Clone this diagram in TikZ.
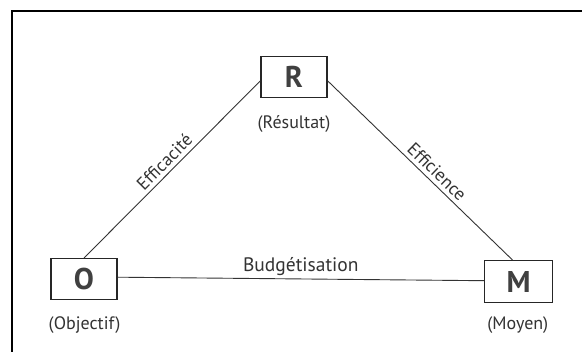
\documentclass[tikz,border=0pt]{standalone}
\usepackage{fontspec}
\setmainfont{PT Sans}
\begin{document}
\begin{tikzpicture}[x=1pt,y=-1pt,
  letterbox/.style={draw=black!85,line width=1.4pt,minimum width=66pt,minimum height=41pt,inner sep=0pt,font=\fontsize{30}{30}\selectfont\bfseries,text=black!75},
  caption/.style={inner sep=0pt,font=\fontsize{18}{18}\selectfont,text=black!80},
  link/.style={draw=black!80,line width=0.9pt},
  linklabel/.style={font=\fontsize{18}{18}\selectfont,text=black!80,inner sep=0pt}]
\useasboundingbox (0,0) rectangle (582,352);
\fill[white] (0,0) rectangle (582,352);
\draw[line width=2pt] (582,10.7) -- (11.7,10.7) -- (11.7,352);
\node[letterbox] (O) at (84,279.2) {O};
\node[letterbox] (R) at (294,76.9) {R};
\node[letterbox,minimum width=68pt,minimum height=42pt] (M) at (518.5,281.7) {M};
\node[caption] (lr) at (294,124) {(Résultat)};
\node[caption] (lo) at (84.6,325.5) {(Objectif)};
\node[caption] (lm) at (517.8,325.5) {(Moyen)};
\draw[link] (O.north) -- node[linklabel,midway,sloped,above=4pt]{Efficacité} ([yshift=-4pt]R.west);
\draw[link] ([yshift=-4pt]R.east) -- node[linklabel,pos=0.55,sloped,above=4pt]{Efficience} ([xshift=-6pt]M.north);
\draw[link] ([yshift=2pt]O.east) -- node[linklabel,midway,above=3pt,font=\fontsize{19.5}{19.5}\selectfont]{Budgétisation} ([yshift=1pt]M.west);
\end{tikzpicture}
\end{document}
